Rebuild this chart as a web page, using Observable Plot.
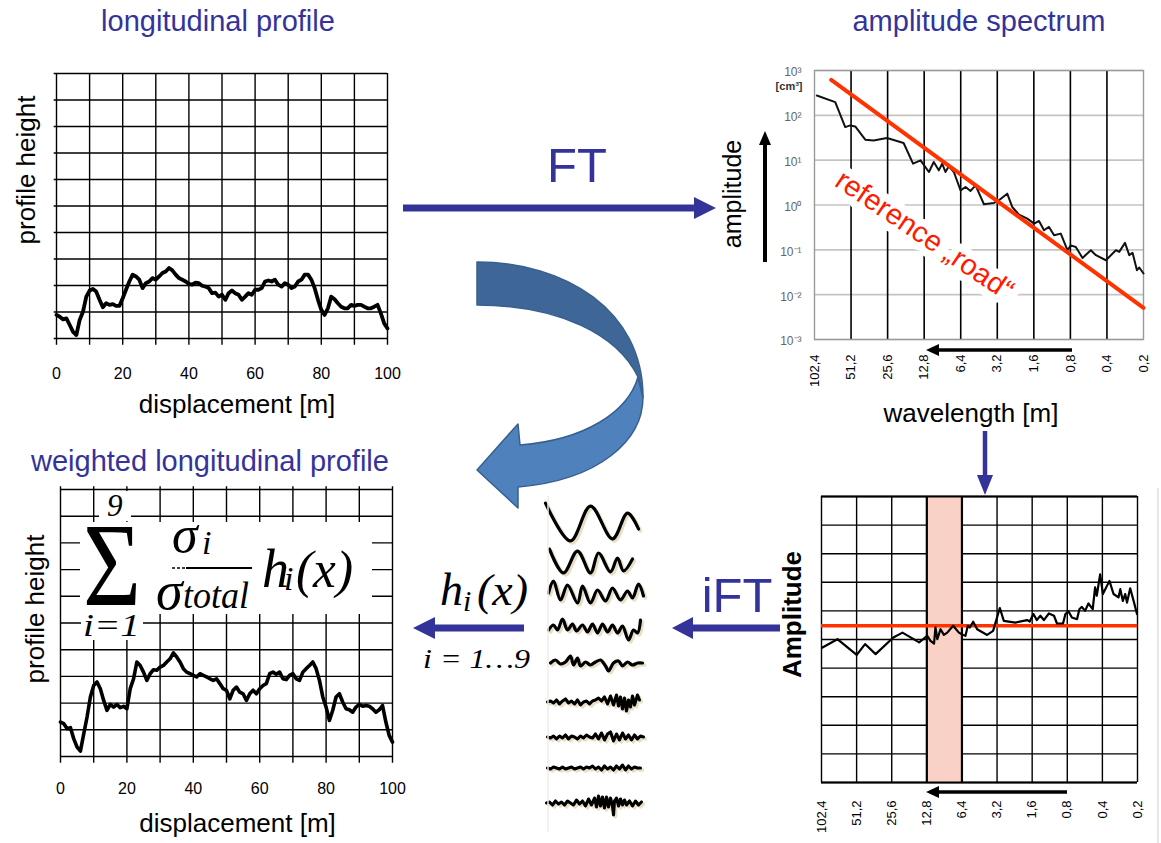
<!DOCTYPE html>
<html><head><meta charset="utf-8">
<script src="https://cdn.jsdelivr.net/npm/d3@7"></script>
<script src="https://cdn.jsdelivr.net/npm/@observablehq/plot@0.6"></script>
<style>
html,body{margin:0;padding:0;background:#fff;}
#page{position:relative;width:1161px;height:843px;overflow:hidden;background:#fff;font-family:"Liberation Sans",Arial,sans-serif;}
</style></head><body><div id="page"></div>
<script>
// ---------- data ----------
const profileTicks = [0, 20, 40, 60, 80, 100];
const profileGridX = [0,10,20,30,40,50,60,70,80,90,100];
const profileGridY = [0,1,2,3,4,5,6,7,8,9,10];
// longitudinal profile height (grid units) at displacement 0..100 m, step 1 m
const profileHeight = [
 0.89,0.82,0.72,0.76,0.51,0.25,0.13,0.70,1.01,1.58,
 1.81,1.87,1.77,1.46,1.18,1.33,1.27,1.30,1.23,1.23,
 1.52,1.84,2.15,2.41,2.34,2.22,1.90,2.09,2.15,2.28,
 2.22,2.34,2.47,2.53,2.66,2.57,2.41,2.28,2.22,2.15,
 2.06,2.03,2.11,2.09,1.99,1.96,1.90,1.71,1.73,1.58,
 1.65,1.46,1.71,1.81,1.71,1.65,1.46,1.58,1.71,1.65,
 1.84,1.84,1.90,2.15,2.19,2.15,2.22,2.03,1.96,2.09,
 2.03,1.90,1.96,2.15,2.22,2.41,2.41,2.22,1.90,1.46,
 1.08,0.89,1.14,1.58,1.48,1.33,1.20,1.14,1.14,1.27,
 1.23,1.27,1.27,1.20,1.14,1.14,1.20,1.27,0.95,0.57,
 0.38];
// weighted longitudinal profile
const weightedHeight = [
 1.29,1.23,1.04,1.08,0.66,0.35,0.20,0.85,1.48,2.23,
 2.66,2.79,2.54,2.10,1.73,1.95,1.85,1.95,1.83,1.88,
 1.79,2.54,2.91,3.54,3.41,3.16,2.85,3.10,3.25,3.23,
 3.35,3.41,3.54,3.66,3.88,3.73,3.54,3.29,3.16,3.10,
 3.04,2.98,3.10,3.04,2.98,2.91,2.85,2.91,2.73,2.54,
 2.48,2.16,2.48,2.60,2.41,2.35,2.10,2.35,2.48,2.35,
 2.54,2.66,2.73,3.10,3.16,3.08,3.16,2.91,2.88,3.04,
 3.10,2.91,2.85,3.16,3.29,3.41,3.54,3.29,2.85,2.23,
 1.85,1.35,1.73,2.23,2.35,2.04,1.79,1.75,1.66,1.85,
 1.95,1.88,1.91,1.88,1.79,1.66,1.75,1.91,1.29,0.79,
 0.54];

const waveTicks = [102.4, 51.2, 25.6, 12.8, 6.4, 3.2, 1.6, 0.8, 0.4, 0.2];
const waveTickLabels = ["102,4","51,2","25,6","12,8","6,4","3,2","1,6","0,8","0,4","0,2"];
const specDecades = [1e-3, 1e-2, 1e-1, 1e0, 1e1, 1e2, 1e3];
const specDecadeLabels = ["10\u207B\u00B3","10\u207B\u00B2","10\u207B\u00B9","10\u2070","10\u00B9","10\u00B2","10\u00B3"];

// amplitude spectrum (wavelength m, amplitude cm^3)
const specWavelength = [98.0,69.1,57.2,52.0,47.3,39.1,33.4,25.9,18.9,15.8,13.7,11.7,10.67,9.70,9.10,8.55,8.02,7.29,6.42,5.84,5.31,4.83,4.12,3.41,3.10,2.65,2.41,2.12,1.81,1.59,1.45,1.32,1.20,1.09,0.96,0.846,0.794,0.722,0.636,0.543,0.493,0.408,0.3375,0.317,0.284,0.262,0.246,0.2265,0.2166,0.2];
const specAmplitude = [277,197,54.7,59.6,56.6,28.6,27.6,31.1,24.1,8.34,9.9,5.45,9.1,5.93,8.34,5.45,7.28,5.45,2.12,2.52,2.06,2.75,1.04,1.11,1.27,1.79,0.904,0.61,0.497,0.385,0.441,0.273,0.324,0.211,0.230,0.098,0.126,0.116,0.066,0.098,0.076,0.0586,0.098,0.090,0.143,0.076,0.0855,0.0352,0.0403,0.0296];
const refRoadWavelength = [74.6, 0.2];
const refRoadAmplitude = [617, 0.0051];

// amplitude relative to reference road
const relWavelength = [100.4,74.8,51.1,43.3,35.2,24.8,20.7,14.9,12.7,11.9,11.1,10.8,10.4,9.77,9.14,8.55,7.61,6.80,6.25,5.97,5.70,5.48,5.13,4.74,3.89,3.46,3.03,2.80,2.23,1.77,1.68,1.56,1.46,1.36,1.27,1.15,1.04,0.98,0.87,0.83,0.78,0.73,0.66,0.63,0.60,0.563,0.527,0.484,0.462,0.447,0.418,0.396,0.348,0.321,0.291,0.281,0.267,0.255,0.246,0.231,0.216,0.202];
const relAmplitude = [4.72,5.01,4.46,4.84,4.49,5.07,5.24,4.90,5.13,4.95,4.86,5.42,5.01,5.36,5.16,5.24,5.48,5.24,5.16,5.13,5.48,5.42,5.62,5.36,5.16,5.30,6.10,5.65,5.59,5.68,5.63,5.89,5.68,5.83,5.68,5.91,5.83,5.56,5.56,5.89,5.98,5.77,5.71,6.06,6.14,6.00,6.26,6.06,6.82,6.53,7.28,6.59,7.05,6.59,6.47,6.76,6.35,6.59,6.29,6.79,6.35,5.89];
const relLevel = [5.48];
const relBand = [{from: 12.8, to: 6.4}];
const relGridY = [0,1,2,3,4,5,6,7,8,9,10];

// band-pass components h_i(x): [position, height]
const wave1 = [[-1,20],[24,-18],[44,17],[66,-16],[81,10],[92,-6]];
const wave2 = [[3,9],[17,-15],[31,7],[44,-15],[52,5],[64,-14],[71,0],[77,-13],[86,-1]];
const wave3 = [[2,0],[7,12],[14,-7],[21,8],[31,-10],[36,7],[44,-10],[51,3],[59,-8],[66,5],[74,-7],[81,2],[86,-5],[92,9],[97,-3]];
const wave4 = [[2,-2],[7,3],[11,-2],[16,9],[21,-2],[26,4],[30,-3],[36,3],[41,-4],[46,4],[51,-5],[56,4],[61,-4],[66,3],[71,-5],[76,2],[82,-12],[87,-2],[91,-5],[94,8]];
const wave5 = [[4,0],[9,3],[14,-1],[19,1],[24,7],[27,-2],[31,5],[34,-3],[39,1],[44,-2],[49,1],[54,3],[59,-3],[62,-8],[67,0],[72,2],[76,-3],[81,1],[86,-2],[91,0],[96,0]];
const wave6 = [[1,-4],[4,-3],[7,-5],[10,-2],[13,-6],[16,-3],[19,-1],[22,-5],[25,-3],[28,-6],[31,-2],[34,-7],[37,-4],[40,-3],[43,-6],[46,-3],[49,-2],[52,0],[55,-3],[58,1],[61,-6],[64,2],[67,-7],[70,3],[72,-8],[74,1],[76,-11],[78,0],[80,-13],[82,-2],[84,-9],[86,2],[88,-7],[91,3],[93,-2]];
const wave7 = [[1,-4],[4,-5],[7,-3],[10,-6],[13,-3],[16,-5],[19,-2],[22,-6],[25,-3],[28,-4],[31,-6],[34,-3],[37,-5],[40,-2],[43,-4],[46,-5],[49,-1],[52,-6],[55,0],[58,-7],[61,-1],[64,1],[67,-8],[70,-1],[73,-7],[76,0],[79,-6],[82,-2],[85,-7],[88,-2],[91,-6],[94,-3],[97,-4]];
const wave8 = [[1,0],[4,-1],[7,1],[10,0],[13,-1],[16,1],[19,-1],[22,0],[25,1],[28,-1],[31,0],[34,1],[37,-1],[40,1],[43,0],[46,2],[49,-1],[52,1],[55,-2],[58,2],[61,-1],[64,1],[67,-2],[70,2],[73,-1],[76,3],[79,-2],[82,2],[85,-1],[88,1],[91,0],[94,0]];
const wave9 = [[0,0],[3,1],[6,-2],[9,2],[12,-1],[15,1],[18,-2],[21,2],[24,0],[27,-2],[30,3],[33,-1],[36,2],[39,-3],[42,4],[45,-2],[48,5],[50,-4],[52,7],[54,-3],[56,6],[58,-5],[60,6],[62,-4],[64,5],[66,-3],[67,-12],[68,2],[70,5],[72,-3],[74,4],[76,-2],[78,3],[80,-2],[83,2],[86,-3],[89,2],[92,-2],[95,1]];
const waveRows = [1,2,3,4,5,6,7,8,9];

// ---------- helpers ----------
const W = 1161, H = 843;
const FONT = "'Liberation Sans', Arial, Helvetica, sans-serif";
const page = document.getElementById("page");
const base = {width: W, height: H, style: {background: "transparent", fontFamily: FONT, overflow: "visible", color: "black"}};
function mount(svg) { svg.style.position = "absolute"; svg.style.left = "0px"; svg.style.top = "0px"; svg.style.maxWidth = "none"; page.appendChild(svg); }
const ident = d => d;
const mid = {textAnchor: "middle", lineAnchor: "middle"};

// ---------- chart A: longitudinal profile ----------
mount(Plot.plot({...base,
  marginLeft: 56, marginRight: W - 387, marginTop: 73, marginBottom: H - 338,
  x: {domain: [0, 100], axis: null}, y: {domain: [0, 10], axis: null},
  marks: [
    Plot.ruleY(profileGridY, {y: ident, x1: -0.7, x2: 100, stroke: "black", strokeWidth: 1.4}),
    Plot.ruleX(profileGridX, {x: ident, y1: -0.25, y2: 10, stroke: "black", strokeWidth: 1.4}),
    Plot.line(profileHeight, {x: (d, i) => i, y: ident, stroke: "black", strokeWidth: 3.8, strokeLinejoin: "round"}),
    Plot.text(profileTicks, {...mid, x: ident, text: d => String(d), frameAnchor: "bottom", dy: 35, fontSize: 16}),
    Plot.text(["displacement [m]"], {...mid, text: ident, frameAnchor: "bottom", dx: 15, dy: 66, fontSize: 26}),
    Plot.text(["profile height"], {...mid, text: ident, frameAnchor: "left", rotate: -90, dx: -30, dy: -36, fontSize: 26})
  ]
}));

// ---------- chart B: weighted longitudinal profile ----------
mount(Plot.plot({...base,
  marginLeft: 60, marginRight: W - 392, marginTop: 489, marginBottom: H - 756,
  x: {domain: [0, 100], axis: null}, y: {domain: [0, 10], axis: null},
  marks: [
    Plot.ruleY(profileGridY, {y: ident, x1: 0, x2: 100, stroke: "black", strokeWidth: 1.4}),
    Plot.ruleX(profileGridX, {x: ident, y1: -0.25, y2: 10.1, stroke: "black", strokeWidth: 1.4}),
    Plot.line(weightedHeight, {x: (d, i) => i, y: ident, stroke: "black", strokeWidth: 3.6, strokeLinejoin: "round"}),
    Plot.text(profileTicks, {...mid, x: ident, text: d => String(d), frameAnchor: "bottom", dy: 32, fontSize: 16}),
    Plot.text(["displacement [m]"], {...mid, text: ident, frameAnchor: "bottom", dx: 11, dy: 67, fontSize: 26}),
    Plot.text(["profile height"], {...mid, text: ident, frameAnchor: "left", rotate: -90, dx: -25, dy: -14, fontSize: 26})
  ]
}));

// ---------- chart C: amplitude spectrum ----------
const spec = specWavelength.map((w, i) => ({w, a: specAmplitude[i]}));
const road = refRoadWavelength.map((w, i) => ({w, a: refRoadAmplitude[i]}));
mount(Plot.plot({...base,
  marginLeft: 814, marginRight: W - 1143, marginTop: 70, marginBottom: H - 339,
  x: {type: "log", base: 2, domain: [102.4, 0.2], axis: null},
  y: {type: "log", domain: [1e-3, 1e3], axis: null},
  marks: [
    Plot.ruleY(specDecades, {y: ident, stroke: "#c4c4c4", strokeWidth: 1.6}),
    Plot.ruleX(waveTicks.slice(1, -1), {x: ident, stroke: "black", strokeWidth: 1.6}),
    Plot.frame({stroke: "#9a9a9a", strokeWidth: 1.4}),
    Plot.text(["reference \u201Eroad\u201C"], {...mid, text: ident, x: 12.7, y: 0.21, rotate: 34, fontSize: 29, fill: "#ff1a00", stroke: "white", strokeWidth: 16, paintOrder: "stroke", strokeLinejoin: "round"}),
    Plot.line(spec, {x: "w", y: "a", stroke: "#111", strokeWidth: 2, strokeLinejoin: "round"}),
    Plot.line(road, {x: "w", y: "a", stroke: "#ff3300", strokeWidth: 4}),
    Plot.text(specDecades, {y: ident, text: (d, i) => specDecadeLabels[i], frameAnchor: "left", textAnchor: "end", lineAnchor: "middle", dx: -13, dy: 2, fill: "#666", fontSize: 12}),
    Plot.text(["[cm\u00B3]"], {text: ident, frameAnchor: "top-left", textAnchor: "end", lineAnchor: "middle", dx: -12, dy: 16, fontSize: 11, fontWeight: "bold", fill: "#333"}),
    Plot.text(waveTicks, {x: ident, text: (d, i) => waveTickLabels[i], frameAnchor: "bottom", rotate: -90, textAnchor: "end", lineAnchor: "middle", dy: 15, fontSize: 13}),
    Plot.text(["wavelength [m]"], {...mid, text: ident, frameAnchor: "bottom", dx: -8, dy: 74, fontSize: 26}),
    Plot.text(["amplitude"], {...mid, text: ident, frameAnchor: "left", rotate: -90, dx: -82, dy: -11, fontSize: 25})
  ]
}));

// ---------- chart D: relative amplitude with selected band ----------
const rel = relWavelength.map((w, i) => ({w, a: relAmplitude[i]}));
mount(Plot.plot({...base,
  marginLeft: 821, marginRight: W - 1137, marginTop: 496, marginBottom: H - 782,
  x: {type: "log", base: 2, domain: [102.4, 0.2], axis: null},
  y: {domain: [0, 10], axis: null},
  marks: [
    Plot.ruleY(relGridY, {y: ident, stroke: "black", strokeWidth: 1.4}),
    Plot.ruleX(waveTicks, {x: ident, stroke: "black", strokeWidth: 1.4}),
    Plot.rect(relBand, {x1: "from", x2: "to", y1: 0, y2: 10, fill: "#fad1c7"}),
    Plot.ruleX(relBand, {x: "from", stroke: "black", strokeWidth: 2.2}),
    Plot.ruleX(relBand, {x: "to", stroke: "black", strokeWidth: 2.2}),
    Plot.ruleY([0, 10], {y: ident, stroke: "black", strokeWidth: 1.8}),
    Plot.ruleY(relLevel, {y: ident, stroke: "#ff3300", strokeWidth: 3.6}),
    Plot.line(rel, {x: "w", y: "a", stroke: "black", strokeWidth: 2.2, strokeLinejoin: "round"}),
    Plot.text(waveTicks, {x: ident, text: (d, i) => waveTickLabels[i], frameAnchor: "bottom", rotate: -90, textAnchor: "end", lineAnchor: "middle", dy: 18, fontSize: 13}),
    Plot.text(["Amplitude"], {...mid, text: ident, frameAnchor: "left", rotate: -90, dx: -29, dy: -25, fontSize: 26, fontWeight: "bold"})
  ]
}));

// ---------- components h_i(x) ----------
const waveData = [wave1, wave2, wave3, wave4, wave5, wave6, wave7, wave8, wave9]
  .flatMap((w, i) => w.map(([x, y]) => ({row: waveRows[i], x, y})));
const smoothRows = waveData.filter(d => d.row <= 5);
const noisyRows = waveData.filter(d => d.row > 5);
mount(Plot.plot({...base,
  marginLeft: 546, marginRight: W - 646, marginTop: 504, marginBottom: H - 821,
  x: {domain: [0, 100], axis: null}, y: {domain: [-17.6, 17.6], axis: null},
  fy: {domain: waveRows, padding: 0, axis: null},
  marks: [
    Plot.line(smoothRows, {x: "x", y: "y", fy: "row", z: "row", curve: "catmull-rom", stroke: "#e8dfc6", strokeWidth: 3.6, dx: 2, dy: 2}),
    Plot.line(noisyRows, {x: "x", y: "y", fy: "row", z: "row", stroke: "#e8dfc6", strokeWidth: 3.4, dx: 2, dy: 2}),
    Plot.line(smoothRows, {x: "x", y: "y", fy: "row", z: "row", curve: "catmull-rom", stroke: "black", strokeWidth: 3.2, strokeLinejoin: "round"}),
    Plot.line(noisyRows, {x: "x", y: "y", fy: "row", z: "row", stroke: "black", strokeWidth: 3.1, strokeLinejoin: "round"})
  ]
}));

// ---------- annotations: titles, arrows, formula ----------
const BLUE = "#33339a";
const ns = "http://www.w3.org/2000/svg";
const ov = document.createElementNS(ns, "svg");
ov.setAttribute("width", W); ov.setAttribute("height", H);
ov.style.position = "absolute"; ov.style.left = "0"; ov.style.top = "0";
ov.innerHTML = `
<g font-family="${FONT}" fill="${BLUE}" text-anchor="middle" font-size="29">
  <text x="218" y="31">longitudinal profile</text>
  <text x="979" y="31">amplitude spectrum</text>
  <text x="210" y="471">weighted longitudinal profile</text>
  <text x="577" y="182" font-size="49">FT</text>
  <text x="737" y="612" font-size="49">iFT</text>
</g>
<line x1="1158" y1="488" x2="1158" y2="843" stroke="#e6e6e6" stroke-width="2"/>
<line x1="548" y1="496" x2="548" y2="832" stroke="#f0ede4" stroke-width="1.5"/>
<!-- FT arrow -->
<line x1="403" y1="208" x2="697" y2="208" stroke="${BLUE}" stroke-width="7"/>
<polygon points="694,197 716,208 694,219" fill="${BLUE}"/>
<!-- down arrow -->
<line x1="985" y1="431" x2="985" y2="478" stroke="${BLUE}" stroke-width="4.5"/>
<polygon points="977,475 993,475 985,495" fill="${BLUE}"/>
<!-- iFT arrow -->
<line x1="690" y1="628" x2="780" y2="628" stroke="${BLUE}" stroke-width="7"/>
<polygon points="693,617 672,628 693,639" fill="${BLUE}"/>
<!-- h arrow -->
<line x1="432" y1="628" x2="524" y2="628" stroke="${BLUE}" stroke-width="7"/>
<polygon points="435,617 413,628 435,639" fill="${BLUE}"/>
<!-- amplitude up arrow -->
<line x1="765" y1="262" x2="765" y2="144" stroke="black" stroke-width="4"/>
<polygon points="759,145 771,145 765,131" fill="black"/>
<!-- wavelength arrows -->
<line x1="1072" y1="350" x2="936" y2="350" stroke="black" stroke-width="3.5"/>
<polygon points="939,344 926,350 939,356" fill="black"/>
<line x1="1067" y1="792" x2="936" y2="792" stroke="black" stroke-width="3.5"/>
<polygon points="939,786 926,792 939,798" fill="black"/>
<!-- curved arrow -->
<path d="M643,397 C643,440 600,480 518,487 L518,508 L477,470 L518,424 L520,445 C585,440 628,412 638,377 Z" fill="#4f81bd" stroke="#36608f" stroke-width="1.5" stroke-linejoin="round"/>
<path d="M477,262 C565,262 643,310 643,397 L638,377 C618,335 560,305 477,305 Z" fill="#3e6797" stroke="#36608f" stroke-width="1.5" stroke-linejoin="round"/>
<!-- formula -->
<rect x="99" y="491" width="32" height="30" fill="white"/>
<rect x="80" y="522" width="292" height="92" fill="white"/>
<rect x="81" y="612" width="62" height="28" fill="white"/>
<g font-family="'Liberation Serif','Times New Roman',serif" fill="black">
  <text x="107" y="516" font-size="31" font-style="italic">9</text>
  <text x="83" y="605" font-size="118" textLength="58" lengthAdjust="spacingAndGlyphs">\u03A3</text>
  <text x="172" y="552" font-size="52" font-style="italic">\u03C3</text>
  <text x="202" y="554" font-size="34" font-style="italic">i</text>
  <line x1="172" y1="568" x2="186" y2="568" stroke="black" stroke-width="1.6" stroke-dasharray="3,2"/>
  <line x1="186" y1="568" x2="252" y2="568" stroke="black" stroke-width="2"/>
  <text x="156" y="609" font-size="54" font-style="italic">\u03C3</text>
  <text x="183" y="608" font-size="37" font-style="italic" textLength="66" lengthAdjust="spacingAndGlyphs">total</text>
  <text x="262" y="587" font-size="54" font-style="italic">h</text>
  <text x="284" y="590" font-size="34" font-style="italic">i</text>
  <text x="296" y="587" font-size="52" font-style="italic" textLength="57" lengthAdjust="spacingAndGlyphs">(x)</text>
  <text x="83" y="636" font-size="31" font-style="italic" textLength="57" lengthAdjust="spacingAndGlyphs">i=1</text>
  <text x="440" y="605" font-size="46" font-style="italic">h</text>
  <text x="463" y="611" font-size="30" font-style="italic">i</text>
  <text x="477" y="605" font-size="44" font-style="italic" textLength="51" lengthAdjust="spacingAndGlyphs">(x)</text>
  <text x="423" y="668" font-size="27" font-style="italic" textLength="107" lengthAdjust="spacingAndGlyphs">i = 1\u20269</text>
</g>`;
page.appendChild(ov);
</script></body></html>
